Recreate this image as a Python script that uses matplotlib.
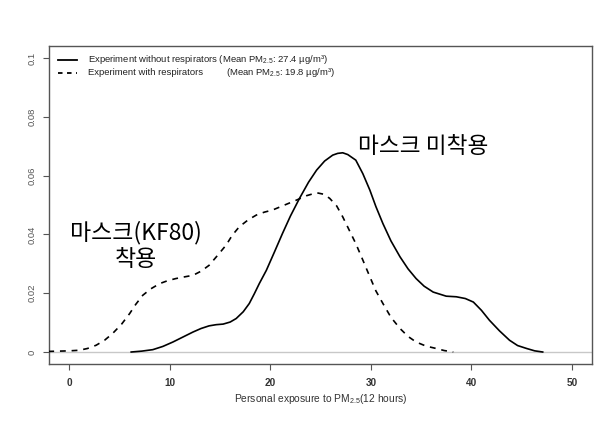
import matplotlib
matplotlib.use('Agg')
import matplotlib.pyplot as plt
from matplotlib.lines import Line2D

plt.rcParams['font.family'] = ['Liberation Sans', 'DejaVu Sans']
plt.rcParams['mathtext.fontset'] = 'custom'
plt.rcParams['mathtext.rm'] = 'Liberation Sans'
plt.rcParams['mathtext.it'] = 'Liberation Sans:italic'
plt.rcParams['mathtext.bf'] = 'Liberation Sans:bold'

# density curve without respirators (solid)
x_without = [6.15, 7.2, 8.3, 9.3, 10.3, 11.3, 12.3, 13.1, 13.9, 14.6, 15.3, 16.0, 16.6, 17.3,
             17.9, 18.4, 18.9, 19.6, 20.4, 21.2, 22.0, 22.9, 23.8, 24.6, 25.4, 26.2, 26.7,
             27.2, 27.7, 28.5, 29.2, 29.9, 30.5, 31.2, 32.0, 32.9, 33.7, 34.5, 35.3, 36.2,
             37.5, 38.5, 39.4, 40.2, 41.0, 41.8, 42.8, 43.8, 44.6, 45.5, 46.3, 47.1]
y_without = [0.0, 0.0003, 0.0008, 0.0019, 0.0034, 0.0051, 0.0068, 0.0080, 0.0089, 0.0093,
             0.0095, 0.0102, 0.0114, 0.0137, 0.0165, 0.0198, 0.0233, 0.0278, 0.0340, 0.0403,
             0.0463, 0.0523, 0.0578, 0.0619, 0.0650, 0.0670, 0.0676, 0.0678, 0.0672, 0.0653,
             0.0607, 0.0551, 0.0495, 0.0437, 0.0378, 0.0324, 0.0283, 0.0250, 0.0224, 0.0204,
             0.0190, 0.0188, 0.0182, 0.0170, 0.0142, 0.0108, 0.0072, 0.0040, 0.0022, 0.0012,
             0.0004, 0.0]

# density curve with respirators (dashed)
x_with = [-2.1, -1.0, 0.0, 1.0, 1.8, 2.66, 3.5, 4.3, 5.2, 6.0, 6.6, 7.3, 8.1, 9.0, 9.8, 10.6,
          11.5, 12.3, 13.1, 13.9, 14.7, 15.6, 16.2, 16.9, 17.8, 18.6, 19.4, 20.2, 21.4, 22.6,
          23.6, 24.6, 25.3, 25.9, 26.6, 27.2, 27.8, 28.5, 29.2, 29.9, 30.5, 31.2, 32.0, 32.9,
          33.7, 34.5, 35.5, 36.5, 37.3, 38.2]
y_with = [0.0002, 0.0003, 0.0004, 0.0006, 0.0012, 0.0023, 0.0040, 0.0063, 0.0095, 0.0131,
          0.0162, 0.0193, 0.0215, 0.0233, 0.0243, 0.0250, 0.0256, 0.0261, 0.0275, 0.0295,
          0.0327, 0.0364, 0.0397, 0.0426, 0.0450, 0.0466, 0.0476, 0.0483, 0.0500, 0.0517,
          0.0532, 0.0542, 0.0537, 0.0523, 0.0497, 0.0460, 0.0418, 0.0369, 0.0313, 0.0256,
          0.0208, 0.0165, 0.0118, 0.0080, 0.0053, 0.0034, 0.0020, 0.0012, 0.0005, 0.0]

x_ticks = [0, 10, 20, 30, 40, 50]
y_ticks = [0, 0.02, 0.04, 0.06, 0.08, 0.1]
y_tick_labels = ['0', '0.02', '0.04', '0.06', '0.08', '0.1']

fig = plt.figure(figsize=(6.07, 4.22), dpi=100)
ax = fig.add_axes([0.0812, 0.138, 0.894, 0.752])

ax.axhline(0, color='#c8c8c8', lw=1.0, zorder=1)
ax.plot(x_without, y_without, color='black', lw=1.2, zorder=3)
ax.plot(x_with, y_with, color='black', lw=1.2, ls=(0, (3.5, 3.5)), zorder=3)

ax.set_xlim(-2, 52)
ax.set_ylim(-0.004, 0.104)
ax.set_xticks(x_ticks)
ax.set_yticks(y_ticks)
ax.set_yticklabels(y_tick_labels, rotation=90, va='center')
for s in ax.spines.values():
    s.set_color('#555555')
    s.set_linewidth(1.0)
ax.tick_params(axis='both', colors='#555555', length=4, width=0.8)
ax.tick_params(axis='x', labelsize=7.2, pad=6, labelcolor='#333333')
ax.tick_params(axis='y', labelsize=6.8, pad=5, labelcolor='#555555')
for lab in ax.get_xticklabels():
    lab.set_fontweight('bold')

ax.set_xlabel('Personal exposure to PM$_{2.5}$(12 hours)', fontsize=7.4, color='#333333', labelpad=3)

# legend drawn by hand (no frame)
y1, y2 = 0.8590, 0.8280
fig.add_artist(Line2D([0.0956, 0.1269], [y1, y1], color='black', lw=1.3,
                      transform=fig.transFigure))
fig.add_artist(Line2D([0.0956, 0.1269], [y2, y2], color='black', lw=1.3,
                      ls=(0, (2.5, 2.5)), transform=fig.transFigure))
fig.text(0.145, y1, 'Experiment without respirators (Mean PM$_{2.5}$: 27.4 µg/m³)',
         fontsize=6.8, va='center', color='#222222')
fig.text(0.145, y2, 'Experiment with respirators', fontsize=6.8, va='center', color='#222222')
fig.text(0.373, y2, '(Mean PM$_{2.5}$: 19.8 µg/m³)', fontsize=6.8, va='center', color='#222222')

# Korean annotations
ax.text(28.7, 0.0698, '마스크 미착용', fontsize=16.3, family=['Noto Sans CJK KR', 'DejaVu Sans'],
        ha='left', va='center')
ax.text(6.6, 0.0360, '마스크(KF80)\n착용', fontsize=16.5, family=['Noto Sans CJK KR', 'DejaVu Sans'],
        ha='center', va='center', linespacing=1.2)

fig.savefig('out.png', dpi=100)
